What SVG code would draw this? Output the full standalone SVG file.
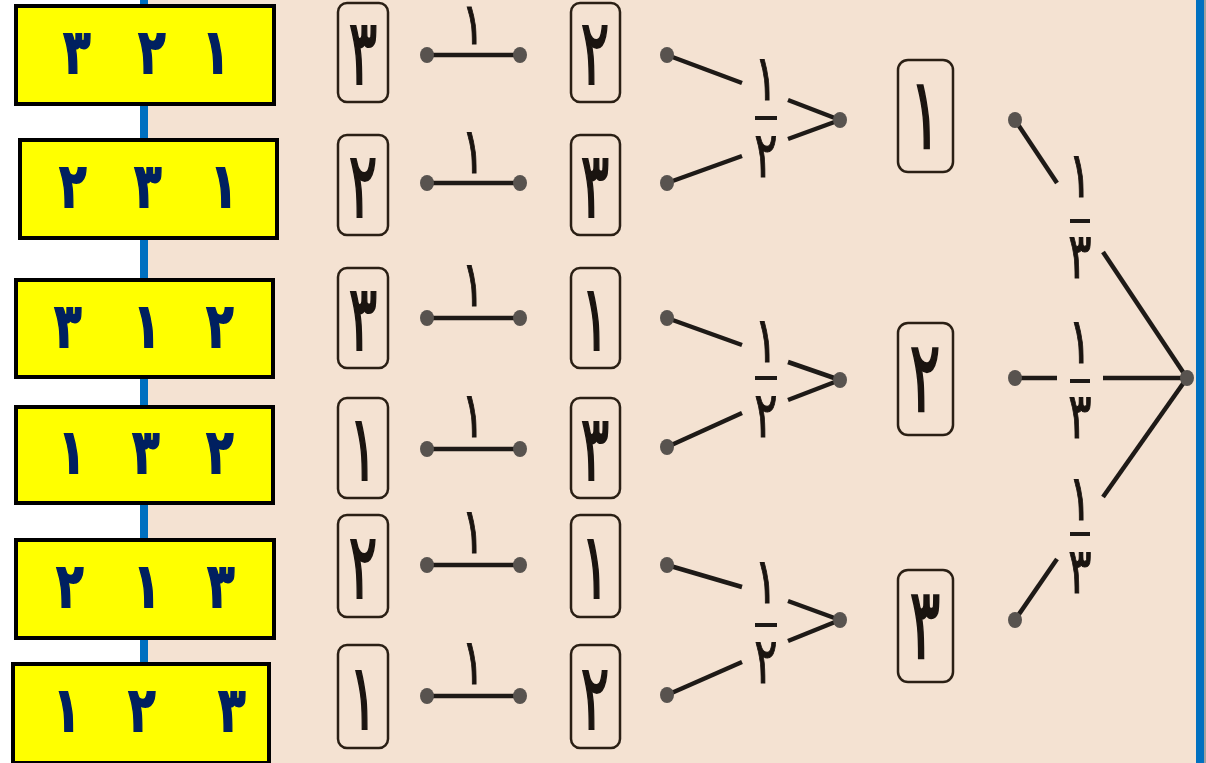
<svg xmlns="http://www.w3.org/2000/svg" width="1206" height="763" viewBox="0 0 1206 763">
<style>
.yb{fill:#FFFF00;stroke:#000;stroke-width:4}
.yt{font-family:"DejaVu Sans",sans-serif;font-weight:bold;font-size:56px;fill:#002060;stroke:#002060;stroke-width:1.6;text-anchor:middle}
.tb{fill:none;stroke:#2a1f14;stroke-width:2.5}
.tt{font-family:"DejaVu Sans",sans-serif;font-size:76px;fill:#1a1410;stroke:#1a1410;stroke-width:1.8;text-anchor:middle}
.ft{font-family:"DejaVu Sans",sans-serif;font-size:58px;fill:#1a1410;stroke:#1a1410;stroke-width:1;text-anchor:middle}
.ln{stroke:#1e1a17;stroke-width:4.5;fill:none}
.bar{stroke:#1e1a17;stroke-width:4}
.dot{fill:#58534f}
</style>
<rect x="0" y="0" width="1206" height="763" fill="#FFFFFF"/>
<rect x="148" y="0" width="1048" height="763" fill="#F4E2D2"/>
<rect x="140" y="0" width="8" height="763" fill="#0070C0"/>
<rect x="1196" y="0" width="8" height="763" fill="#0070C0"/>
<rect x="1204" y="0" width="2" height="763" fill="#A0A0A0"/>

<g id="connectors">
  <line class="ln" x1="427" y1="55" x2="520" y2="55"/>
  <line class="ln" x1="427" y1="183" x2="520" y2="183"/>
  <line class="ln" x1="427" y1="318" x2="520" y2="318"/>
  <line class="ln" x1="427" y1="449" x2="520" y2="449"/>
  <line class="ln" x1="427" y1="565" x2="520" y2="565"/>
  <line class="ln" x1="427" y1="696" x2="520" y2="696"/>
  <line class="ln" x1="667" y1="55" x2="742" y2="83"/>
  <line class="ln" x1="788" y1="100" x2="840" y2="120"/>
  <line class="ln" x1="667" y1="183" x2="742" y2="156"/>
  <line class="ln" x1="788" y1="139" x2="840" y2="120"/>
  <line class="ln" x1="667" y1="318" x2="742" y2="345"/>
  <line class="ln" x1="788" y1="362" x2="840" y2="380"/>
  <line class="ln" x1="667" y1="447" x2="742" y2="413"/>
  <line class="ln" x1="788" y1="400" x2="840" y2="380"/>
  <line class="ln" x1="667" y1="565" x2="742" y2="587"/>
  <line class="ln" x1="788" y1="601" x2="840" y2="620"/>
  <line class="ln" x1="667" y1="695" x2="742" y2="662"/>
  <line class="ln" x1="788" y1="641" x2="840" y2="620"/>
  <line class="ln" x1="1015" y1="120" x2="1057" y2="183"/>
  <line class="ln" x1="1103" y1="252" x2="1187" y2="378"/>
  <line class="ln" x1="1015" y1="378" x2="1057" y2="378"/>
  <line class="ln" x1="1103" y1="378" x2="1187" y2="378"/>
  <line class="ln" x1="1015" y1="620" x2="1057" y2="559"/>
  <line class="ln" x1="1103" y1="497" x2="1187" y2="378"/>
  <g class="dot">
    <ellipse cx="427" cy="55" rx="7" ry="8"/><ellipse cx="520" cy="55" rx="7" ry="8"/>
    <ellipse cx="427" cy="183" rx="7" ry="8"/><ellipse cx="520" cy="183" rx="7" ry="8"/>
    <ellipse cx="427" cy="318" rx="7" ry="8"/><ellipse cx="520" cy="318" rx="7" ry="8"/>
    <ellipse cx="427" cy="449" rx="7" ry="8"/><ellipse cx="520" cy="449" rx="7" ry="8"/>
    <ellipse cx="427" cy="565" rx="7" ry="8"/><ellipse cx="520" cy="565" rx="7" ry="8"/>
    <ellipse cx="427" cy="696" rx="7" ry="8"/><ellipse cx="520" cy="696" rx="7" ry="8"/>
    <ellipse cx="667" cy="55" rx="7" ry="8"/><ellipse cx="667" cy="183" rx="7" ry="8"/>
    <ellipse cx="667" cy="318" rx="7" ry="8"/><ellipse cx="667" cy="447" rx="7" ry="8"/>
    <ellipse cx="667" cy="565" rx="7" ry="8"/><ellipse cx="667" cy="695" rx="7" ry="8"/>
    <ellipse cx="840" cy="120" rx="7" ry="8"/><ellipse cx="840" cy="380" rx="7" ry="8"/><ellipse cx="840" cy="620" rx="7" ry="8"/>
    <ellipse cx="1015" cy="120" rx="7" ry="8"/><ellipse cx="1015" cy="378" rx="7" ry="8"/><ellipse cx="1015" cy="620" rx="7" ry="8"/>
    <ellipse cx="1187" cy="378" rx="7" ry="8"/>
  </g>
  <text class="ft" transform="translate(473,44) scale(0.75,1)">١</text>
  <text class="ft" transform="translate(473,173) scale(0.75,1.1)">١</text>
  <text class="ft" transform="translate(473,306) scale(0.75,1.1)">١</text>
  <text class="ft" transform="translate(473,437) scale(0.75,1.1)">١</text>
  <text class="ft" transform="translate(473,553) scale(0.75,1.1)">١</text>
  <text class="ft" transform="translate(473,684) scale(0.75,1.1)">١</text>
  <text class="ft" transform="translate(766,100) scale(0.75,1.1)">١</text><line class="bar" x1="755" y1="118" x2="777" y2="118"/><text class="ft" transform="translate(766,177) scale(0.75,1.1)">٢</text>
  <text class="ft" transform="translate(766,362) scale(0.75,1.1)">١</text><line class="bar" x1="755" y1="378" x2="777" y2="378"/><text class="ft" transform="translate(766,437) scale(0.75,1.1)">٢</text>
  <text class="ft" transform="translate(766,603) scale(0.75,1.1)">١</text><line class="bar" x1="755" y1="625" x2="777" y2="625"/><text class="ft" transform="translate(766,683) scale(0.75,1.1)">٢</text>
  <text class="ft" transform="translate(1080,197) scale(0.75,1.1)">١</text><line class="bar" x1="1070" y1="221" x2="1090" y2="221"/><text class="ft" transform="translate(1080,278) scale(0.75,1.1)">٣</text>
  <text class="ft" transform="translate(1080,363) scale(0.75,1.1)">١</text><line class="bar" x1="1070" y1="381" x2="1090" y2="381"/><text class="ft" transform="translate(1080,438) scale(0.75,1.1)">٣</text>
  <text class="ft" transform="translate(1080,520) scale(0.75,1.1)">١</text><line class="bar" x1="1070" y1="534" x2="1090" y2="534"/><text class="ft" transform="translate(1080,593) scale(0.75,1.1)">٣</text>
</g>

<g id="n-l1"><rect class="tb" x="338" y="3" width="50" height="99" rx="9"/><text class="tt" transform="translate(363,84) scale(0.7,1.2)">٣</text></g>
<g id="n-l2"><rect class="tb" x="338" y="135" width="50" height="100" rx="9"/><text class="tt" transform="translate(363,217) scale(0.7,1.2)">٢</text></g>
<g id="n-l3"><rect class="tb" x="338" y="268" width="50" height="100" rx="9"/><text class="tt" transform="translate(363,350) scale(0.7,1.2)">٣</text></g>
<g id="n-l4"><rect class="tb" x="338" y="398" width="50" height="100" rx="9"/><text class="tt" transform="translate(363,480) scale(0.7,1.2)">١</text></g>
<g id="n-l5"><rect class="tb" x="338" y="515" width="50" height="102" rx="9"/><text class="tt" transform="translate(363,598) scale(0.7,1.2)">٢</text></g>
<g id="n-l6"><rect class="tb" x="338" y="645" width="50" height="103" rx="9"/><text class="tt" transform="translate(363,729) scale(0.7,1.2)">١</text></g>

<g id="n-m1"><rect class="tb" x="571" y="3" width="49" height="99" rx="9"/><text class="tt" transform="translate(595,84) scale(0.7,1.2)">٢</text></g>
<g id="n-m2"><rect class="tb" x="571" y="135" width="49" height="100" rx="9"/><text class="tt" transform="translate(595,217) scale(0.7,1.2)">٣</text></g>
<g id="n-m3"><rect class="tb" x="571" y="268" width="49" height="100" rx="9"/><text class="tt" transform="translate(595,350) scale(0.7,1.2)">١</text></g>
<g id="n-m4"><rect class="tb" x="571" y="398" width="49" height="100" rx="9"/><text class="tt" transform="translate(595,480) scale(0.7,1.2)">٣</text></g>
<g id="n-m5"><rect class="tb" x="571" y="515" width="49" height="102" rx="9"/><text class="tt" transform="translate(595,598) scale(0.7,1.2)">١</text></g>
<g id="n-m6"><rect class="tb" x="571" y="645" width="49" height="103" rx="9"/><text class="tt" transform="translate(595,729) scale(0.7,1.2)">٢</text></g>

<g id="n-r1"><rect class="tb" x="898" y="60" width="55" height="112" rx="10"/><text class="tt" transform="translate(925,148) scale(0.75,1.3)">١</text></g>
<g id="n-r2"><rect class="tb" x="898" y="323" width="55" height="112" rx="10"/><text class="tt" transform="translate(925,411) scale(0.75,1.3)">٢</text></g>
<g id="n-r3"><rect class="tb" x="898" y="570" width="55" height="112" rx="10"/><text class="tt" transform="translate(925,658) scale(0.75,1.3)">٣</text></g>

<g id="y1"><rect class="yb" x="16" y="6" width="258" height="98"/><text class="yt" transform="translate(77,73) scale(0.8,1.1)">٣</text><text class="yt" transform="translate(152,73) scale(0.8,1.1)">٢</text><text class="yt" transform="translate(216,73) scale(0.8,1.1)">١</text></g>
<g id="y2"><rect class="yb" x="20" y="140" width="257" height="98"/><text class="yt" transform="translate(73,207) scale(0.8,1.1)">٢</text><text class="yt" transform="translate(148,207) scale(0.8,1.1)">٣</text><text class="yt" transform="translate(224,207) scale(0.8,1.1)">١</text></g>
<g id="y3"><rect class="yb" x="16" y="280" width="257" height="97"/><text class="yt" transform="translate(68,347) scale(0.8,1.1)">٣</text><text class="yt" transform="translate(147,347) scale(0.8,1.1)">١</text><text class="yt" transform="translate(220,347) scale(0.8,1.1)">٢</text></g>
<g id="y4"><rect class="yb" x="16" y="407" width="257" height="96"/><text class="yt" transform="translate(72,473) scale(0.8,1.1)">١</text><text class="yt" transform="translate(146,473) scale(0.8,1.1)">٣</text><text class="yt" transform="translate(220,473) scale(0.8,1.1)">٢</text></g>
<g id="y5"><rect class="yb" x="16" y="540" width="258" height="98"/><text class="yt" transform="translate(70,607) scale(0.8,1.1)">٢</text><text class="yt" transform="translate(147,607) scale(0.8,1.1)">١</text><text class="yt" transform="translate(221,607) scale(0.8,1.1)">٣</text></g>
<g id="y6"><rect class="yb" x="13" y="664" width="256" height="99"/><text class="yt" transform="translate(67,731) scale(0.8,1.1)">١</text><text class="yt" transform="translate(142,731) scale(0.8,1.1)">٢</text><text class="yt" transform="translate(232,731) scale(0.8,1.1)">٣</text></g>
</svg>
